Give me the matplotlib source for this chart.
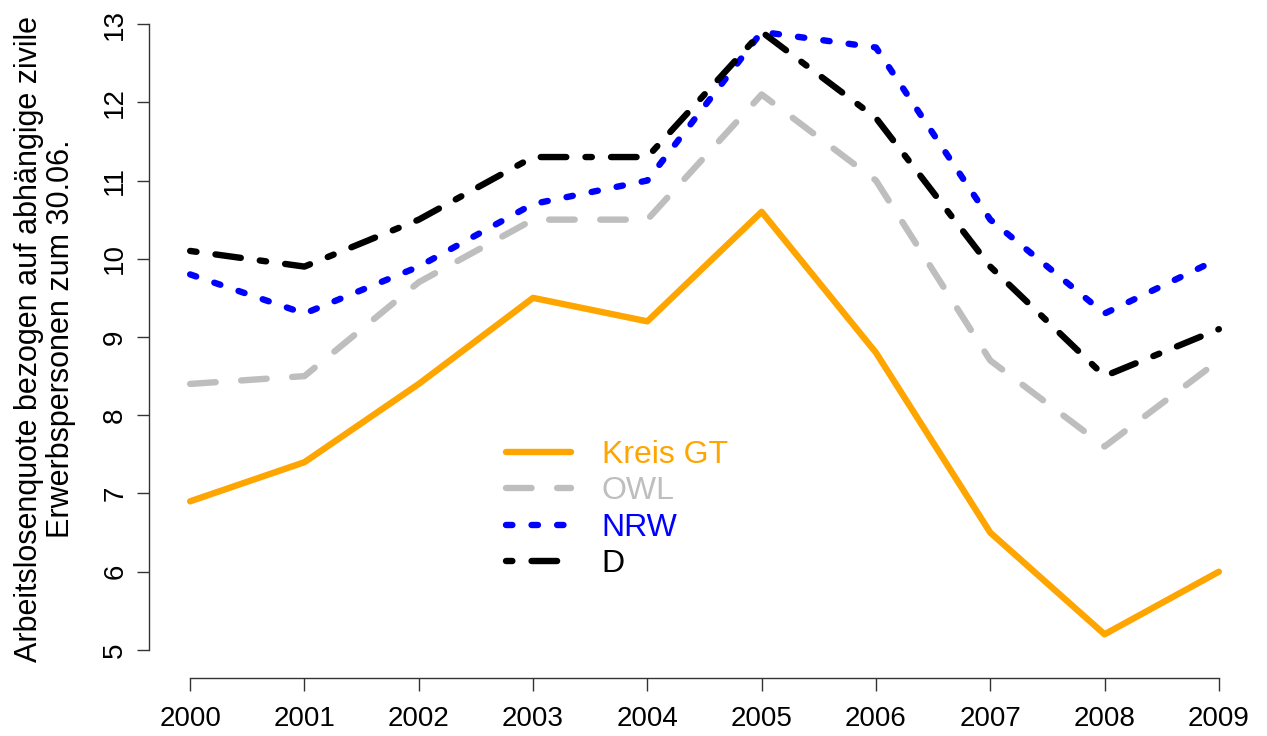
import matplotlib
matplotlib.use("Agg")
import matplotlib.pyplot as plt

plt.rcParams['font.family'] = ['Liberation Sans', 'DejaVu Sans']

years = [2000, 2001, 2002, 2003, 2004, 2005, 2006, 2007, 2008, 2009]
kreis_gt = [6.9, 7.4, 8.4, 9.5, 9.2, 10.6, 8.8, 6.5, 5.2, 6.0]
owl = [8.4, 8.5, 9.7, 10.5, 10.5, 12.1, 11.0, 8.7, 7.6, 8.7]
nrw = [9.8, 9.3, 9.9, 10.7, 11.0, 12.9, 12.7, 10.5, 9.3, 10.0]
d = [10.1, 9.9, 10.5, 11.3, 11.3, 12.9, 11.8, 9.9, 8.5, 9.1]

series = [
    ("Kreis GT", kreis_gt, "#FFA500", "-"),
    ("OWL", owl, "#BEBEBE", (0, (4, 4))),
    ("NRW", nrw, "#0000FF", (0, (1, 3))),
    ("D", d, "#000000", (0, (1, 3, 4, 3))),
]

fig = plt.figure(figsize=(12.67, 7.36), dpi=100)
ax = fig.add_axes([149 / 1267, 1 - 675 / 736, (1260 - 149) / 1267, 676 / 736])

lw = 4.6
for name, vals, col, ls in series:
    ax.plot(years, vals, color=col, linestyle=ls, linewidth=lw,
            dash_capstyle='round', solid_capstyle='round',
            solid_joinstyle='round', dash_joinstyle='round', label=name)

ax.set_xlim(2000 - 0.36, 2009 + 0.36)
ax.set_ylim(5 - 0.32, 13 + 0.32)

for side in ['top', 'right']:
    ax.spines[side].set_visible(False)
ax.spines['left'].set_bounds(5, 13)
ax.spines['bottom'].set_bounds(2000, 2009)
ax.spines['bottom'].set_position(('outward', 2))
for side in ['left', 'bottom']:
    ax.spines[side].set_color('#333333')
    ax.spines[side].set_linewidth(1.0)

ax.set_xticks(years)
ax.set_yticks(range(5, 14))
ax.tick_params(axis='both', direction='out', length=9, width=1.0,
               color='#333333', labelsize=20)
ax.tick_params(axis='x', pad=11)
ax.tick_params(axis='y', pad=6)
plt.setp(ax.get_yticklabels(), rotation=90, va='center')

fig.text(45 / 1267, 1 - 339 / 736,
         "Arbeitslosenquote bezogen auf abhängige zivile\nErwerbspersonen zum 30.06.",
         rotation=90, ha='center', va='center', multialignment='center',
         fontsize=22, linespacing=1.1)

leg = ax.legend(loc='upper left', bbox_to_anchor=(506 / 1267, 1 - 440 / 736),
                bbox_transform=fig.transFigure, frameon=False, fontsize=23,
                handlelength=2.05, handletextpad=0.95, labelspacing=0.2,
                borderpad=0, borderaxespad=0)
for txt, (_, _, col, _) in zip(leg.get_texts(), series):
    txt.set_color(col)

plt.savefig("out.png", dpi=100)
